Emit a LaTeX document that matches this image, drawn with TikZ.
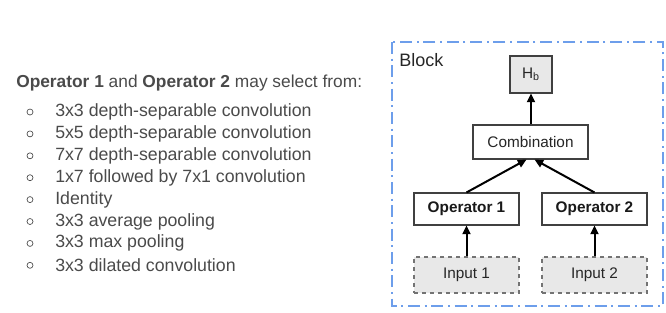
\documentclass[tikz,border=0pt]{standalone}
\usepackage{fontspec}
\setmainfont{Liberation Sans}
\usetikzlibrary{arrows.meta}
\definecolor{txt}{HTML}{4A4A4A}
\definecolor{boxfill}{HTML}{E8E8E8}
\definecolor{blk}{HTML}{6D9EEB}
\begin{document}
\begin{tikzpicture}[x=0.75pt,y=-0.75pt,
  opbox/.style={draw=black!75,line width=0.8pt,fill=white,minimum width=78.75pt,minimum height=24pt,inner sep=0pt,font=\fontsize{11.5}{13}\selectfont\bfseries,text=black!90},
  combbox/.style={draw=black!75,line width=0.8pt,fill=white,minimum width=86.25pt,minimum height=25.5pt,inner sep=0pt,font=\fontsize{11.5}{13}\selectfont,text=black!85},
  inbox/.style={draw=black!55,dashed,line width=0.8pt,fill=boxfill,minimum width=78.75pt,minimum height=27pt,inner sep=0pt,font=\fontsize{11.5}{13}\selectfont,text=black!85},
  hbox/.style={draw=black!75,line width=0.8pt,fill=boxfill,minimum width=31.5pt,minimum height=27.75pt,inner sep=0pt,font=\fontsize{11.5}{13}\selectfont,text=black!85},
  conn/.style={line width=1.5pt,-{Triangle[length=6.5pt,width=6pt]}},
  item/.style={anchor=west,inner sep=0pt,font=\fontsize{13.3}{15}\selectfont,text=txt},
  bul/.style={circle,draw=txt,line width=0.5pt,minimum size=4.5pt,inner sep=0pt}
]
\useasboundingbox (0,0) rectangle (666,312);
% block frame
\draw[blk,line width=1.1pt,dash pattern=on 9pt off 3.5pt on 1.5pt off 3.5pt] (392,42) rectangle (663,306);
\node[anchor=west,inner sep=0pt,font=\fontsize{13.5}{15}\selectfont,text=black!85] (blocklbl) at (399,60) {Block};
% nodes
\node[hbox] (hb) at (531,74.5) {H\textsubscript{b}};
\node[combbox] (comb) at (530.5,142) {Combination};
\node[opbox] (op1) at (466.5,209) {Operator 1};
\node[opbox] (op2) at (594.5,209) {Operator 2};
\node[inbox] (in1) at (466.5,275) {Input 1};
\node[inbox] (in2) at (594.5,275) {Input 2};
% connectors
\draw[conn] (comb.north -| hb) -- (hb.south);
\draw[conn] (op1.north) -- ([xshift=-3pt]comb.south);
\draw[conn] (op2.north) -- ([xshift=3pt]comb.south);
\draw[conn] (in1.north) -- (op1.south);
\draw[conn] (in2.north) -- (op2.south);
% left text
\node[anchor=west,inner sep=0pt,font=\fontsize{13}{15}\selectfont,text=txt] (head) at (16,83) {\textbf{Operator 1} and \textbf{Operator 2} may select from:};
\foreach \t [count=\i] in {3x3 depth-separable convolution,5x5 depth-separable convolution,7x7 depth-separable convolution,1x7 followed by 7x1 convolution,Identity,3x3 average pooling,3x3 max pooling,3x3 dilated convolution}{
  \node[item] (it\i) at (55,{112+(\i-1)*21.9}) {\t};
  \node[bul] (b\i) at (30,{112+(\i-1)*21.9}) {};
}
\end{tikzpicture}
\end{document}
